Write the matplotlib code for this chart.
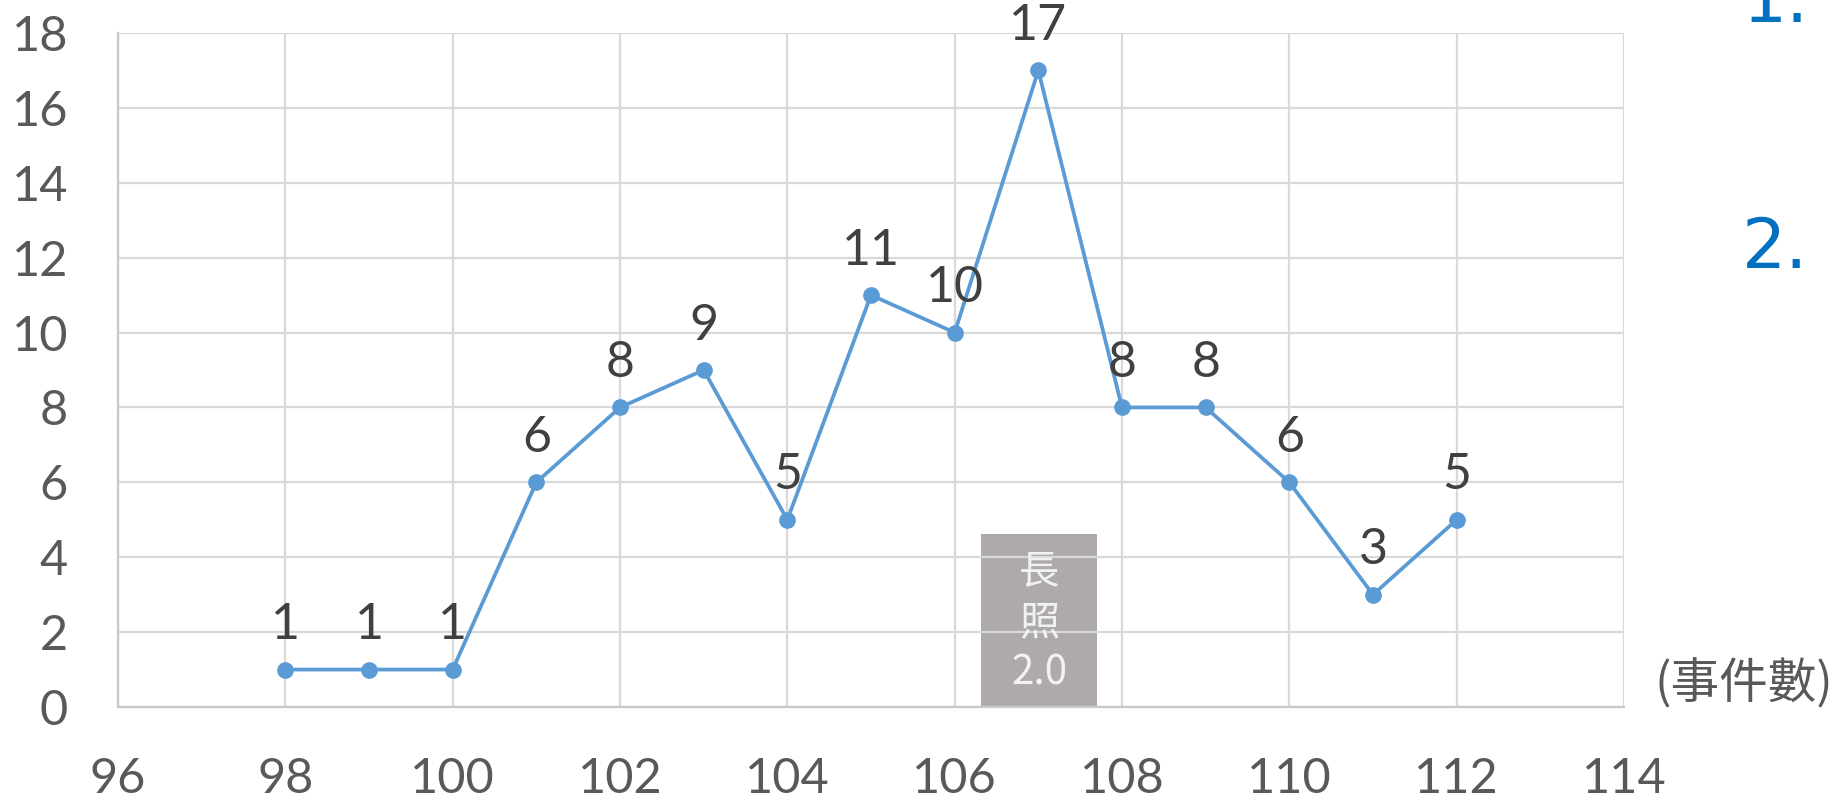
import matplotlib
matplotlib.use("Agg")
import matplotlib.pyplot as plt
from matplotlib.patches import Rectangle

years = [98, 99, 100, 101, 102, 103, 104, 105, 106, 107, 108, 109, 110, 111, 112]
counts = [1, 1, 1, 6, 8, 9, 5, 11, 10, 17, 8, 8, 6, 3, 5]
x_ticks = [96, 98, 100, 102, 104, 106, 108, 110, 112, 114]
y_ticks = [0, 2, 4, 6, 8, 10, 12, 14, 16, 18]
box_x = [106.32, 107.70]
box_top = 4.62
box_label = "長\n照\n2.0"
unit_label = "(事件數)"
side_labels = ["1.", "2."]

NUM_FONT = ["Lato", "DejaVu Sans"]
CJK_FONT = ["Noto Sans CJK TC", "DejaVu Sans"]

fig = plt.figure(figsize=(18.39, 8.0), dpi=100)
ax = fig.add_axes([118 / 1839, 1 - 707 / 800, (1624 - 118) / 1839, (707 - 33) / 800])

ax.set_xlim(x_ticks[0], x_ticks[-1])
ax.set_ylim(y_ticks[0], y_ticks[-1])
ax.set_xticks(x_ticks)
ax.set_yticks(y_ticks)
ax.grid(True, color="#D9D9D9", linewidth=1.6, zorder=1)
ax.set_axisbelow(True)
for s in ["top", "right"]:
    ax.spines[s].set_visible(False)
for s in ["left", "bottom"]:
    ax.spines[s].set_color("#C8C8C8")
    ax.spines[s].set_linewidth(1.6)
ax.tick_params(length=0, pad=36, labelsize=35, labelcolor="#595959")
for lab in ax.get_xticklabels() + ax.get_yticklabels():
    lab.set_family(NUM_FONT)

# gray box
ax.add_patch(Rectangle((box_x[0], 0), box_x[1] - box_x[0], box_top,
                       facecolor="#AEAAAA", edgecolor="none", zorder=0.5))
ax.text((box_x[0] + box_x[1]) / 2, box_top / 2 - 0.05, box_label, ha="center", va="center",
        fontsize=29, color="#F2F2F2", family=CJK_FONT, linespacing=1.3, zorder=3)

ax.plot(years, counts, color="#5B9BD5", linewidth=2.7, marker="o", markersize=11,
        zorder=4, clip_on=False)
for x, y in zip(years, counts):
    ax.annotate(str(y), (x, y), xytext=(0, 32), textcoords="offset points",
                ha="center", va="center", fontsize=36, color="#404040",
                family=NUM_FONT, annotation_clip=False, zorder=5)

fig.text(1744 / 1839, 1 - 684 / 800, unit_label, ha="center", va="center",
         fontsize=35, color="#595959", family=CJK_FONT)
fig.text(1775 / 1839, 1 - 2 / 800, side_labels[0], ha="center", va="center",
         fontsize=50, color="#0070C0", family=["DejaVu Sans"])
fig.text(1775 / 1839, 1 - 248 / 800, side_labels[1], ha="center", va="center",
         fontsize=50, color="#0070C0", family=["DejaVu Sans"])

fig.savefig("out.png", dpi=100)
